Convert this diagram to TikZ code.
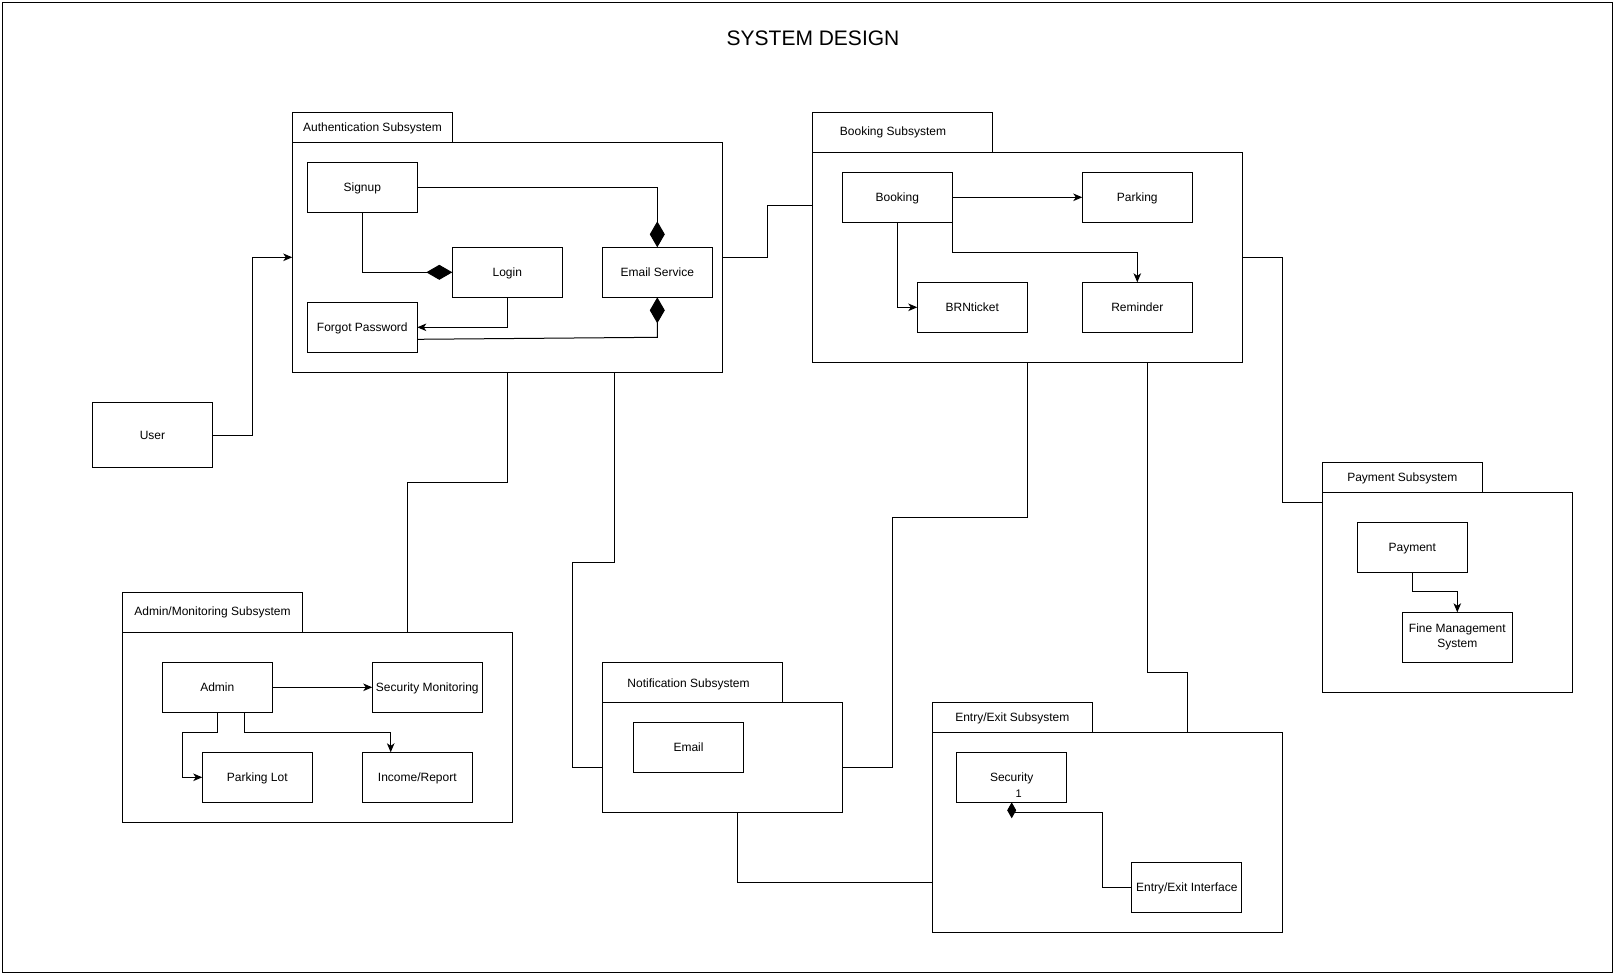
\documentclass[tikz,border=0pt]{standalone}
\usepackage{fontspec}
\setmainfont{Liberation Sans}
\usetikzlibrary{arrows.meta,calc}

\begin{document}
\begin{tikzpicture}[x=1pt, y=-1pt, line width=1pt,
  every node/.style={font=\fontsize{12pt}{15pt}\selectfont, inner sep=0pt, outer sep=0pt,
    text height=10.7pt, text depth=2.5pt},
  box/.style={draw, minimum width=110pt, minimum height=50pt, align=center},
  twoline/.style={text height=, text depth=},
  pkg/.style={draw, anchor=north west},
  tab/.style={draw, anchor=south west},
  arr/.style={-{Stealth[length=9pt,width=7.5pt,inset=2.5pt]}},
  comp/.style={-{Diamond[length=26pt,width=15pt]}},
  smallcomp/.style={-{Diamond[length=16pt,width=9pt]}},
]
\useasboundingbox (0,0) rectangle (1615,975);
\draw (2,2) rectangle (1612,972);

\node[font=\fontsize{21pt}{24pt}\selectfont, text height=15pt, text depth=0pt] (title) at (813,37.5) {SYSTEM DESIGN};

% ---------- packages ----------
\node[pkg, minimum width=430pt, minimum height=230pt] (authbox) at (292.3,142.3) {};
\node[tab, minimum width=160pt, minimum height=30pt] (authtab) at (authbox.north west) {};
\node (authlbl) at (372.5,127) {Authentication Subsystem};

\node[pkg, minimum width=430pt, minimum height=210pt] (bookbox) at (812.3,152.3) {};
\node[tab, minimum width=180pt, minimum height=40pt] (booktab) at (bookbox.north west) {};
\node (booklbl) at (893,131.5) {Booking Subsystem};

\node[pkg, minimum width=390pt, minimum height=190pt] (adminbox) at (122.3,632.3) {};
\node[tab, minimum width=180pt, minimum height=40pt] (admintab) at (adminbox.north west) {};
\node (adminlbl) at (212.5,611) {Admin/Monitoring Subsystem};

\node[pkg, minimum width=240pt, minimum height=110pt] (notifbox) at (602.3,702.3) {};
\node[tab, minimum width=180pt, minimum height=40pt] (notiftab) at (notifbox.north west) {};
\node (notiflbl) at (688.5,683.5) {Notification Subsystem};

\node[pkg, minimum width=350pt, minimum height=200pt] (eebox) at (932.3,732.3) {};
\node[tab, minimum width=160pt, minimum height=30pt] (eetab) at (eebox.north west) {};
\node (eelbl) at (1012.3,717) {Entry/Exit Subsystem};

\node[pkg, minimum width=250pt, minimum height=200pt] (paybox) at (1322.3,492.3) {};
\node[tab, minimum width=160pt, minimum height=30pt] (paytab) at (paybox.north west) {};
\node (paylbl) at (1402.3,477) {Payment Subsystem};

% ---------- components ----------
\node[box, minimum width=120pt, minimum height=65pt] (user) at (152.5,435) {User};

\node[box] (signup) at (362.3,187.3) {Signup};
\node[box] (login) at (507.3,272.3) {Login};
\node[box] (emsvc) at (657.3,272.3) {Email Service};
\node[box] (fp) at (362.3,327.3) {Forgot Password};

\node[box] (booking) at (897.3,197.3) {Booking};
\node[box] (parking) at (1137.3,197.3) {Parking};
\node[box] (brn) at (972.3,307.3) {BRNticket};
\node[box] (reminder) at (1137.3,307.3) {Reminder};

\node[box] (admin) at (217.3,687.3) {Admin};
\node[box] (secmon) at (427.3,687.3) {Security Monitoring};
\node[box] (plot) at (257.3,777.3) {Parking Lot};
\node[box] (income) at (417.3,777.3) {Income/Report};

\node[box] (email) at (688.5,747.3) {Email};

\node[box] (security) at (1011.7,777.3) {Security};
\node[box] (eei) at (1186.8,887.3) {Entry/Exit Interface};

\node[box] (payment) at (1412.3,547.3) {Payment};
\node[box, twoline] (fms) at (1457.3,637.3) {Fine Management\\System};

% ---------- connectors inside packages ----------
\draw[comp] (signup.east) -| (emsvc.north);
\draw[comp] (signup.south) |- (login.west);
\draw[arr] (login.south) |- (fp.east);
\draw[comp] ($(fp.east)+(0,12)$) -- (657.3,337.3) -- (emsvc.south);

\draw[arr] (booking.east) -- (parking.west);
\draw[arr] (booking.south) |- (brn.west);
\draw[arr] (booking.south east) -- ++(0,30) -| (reminder.north);

\draw[arr] (admin.east) -- (secmon.west);
\draw[arr] (admin.south) -- ++(0,20) -- ++(-35,0) |- (plot.west);
\draw[arr] ($(admin.south)+(27.4,0)$) -- ++(0,20) -| ($(income.north)+(-26.6,0)$);

\draw[arr] (payment.south) -- ++(0,19) -| (fms.north);

\draw[smallcomp] (eei.west) -- ++(-29.8,0) |- ($(security.south)+(0,10.4)$) -- (security.south);
\node[font=\fontsize{11pt}{13pt}\selectfont, text height=8pt, text depth=0pt] (mult) at (1018.6,793.3) {1};

% ---------- connectors between packages ----------
\draw[arr] (user.east) -- ++(40,0) |- (authbox.west);
\draw (authbox.east) -- ++(45,0) |- ($(bookbox.north west)+(0,52.7)$);
\draw (authbox.south) -- ++(0,110) -| ($(adminbox.north)+(90,0)$);
\draw ($(authbox.south)+(107.6,0)$) |- (572.7,562.4) |- ($(notifbox.west)+(0,10)$);
\draw (bookbox.south) |- (892.2,517) |- ($(notifbox.east)+(0,10)$);
\draw ($(bookbox.south)+(120.2,0)$) |- (1187,672.5) -- ($(eebox.north)+(79.7,0)$);
\draw (bookbox.east) -- ++(40,0) |- ($(paybox.north west)+(0,10.3)$);
\draw ($(notifbox.south)+(15,0)$) |- ($(eebox.west)+(0,50.4)$);
\end{tikzpicture}
\end{document}
